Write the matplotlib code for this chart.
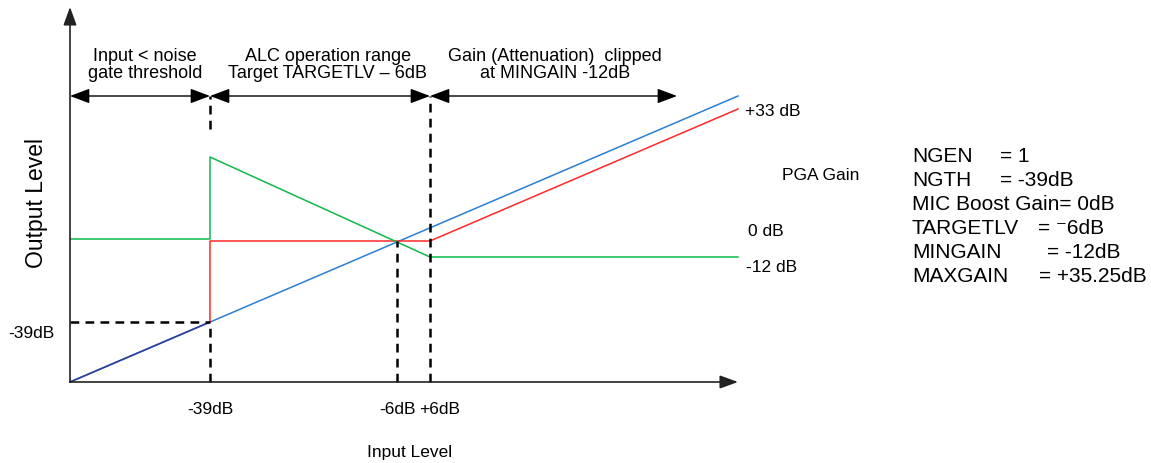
import matplotlib
matplotlib.use("Agg")
import matplotlib.pyplot as plt

plt.rcParams['font.family'] = ['Liberation Sans', 'DejaVu Sans']

# schematic input positions (arbitrary units along the input axis)
x_ng = 140      # -39dB noise gate threshold
x_tgt = 327     # -6dB target
x_clip = 360    # +6dB gain clipped
x_end = 668

# output levels (schematic units)
blue_x = [0, x_end]
blue_y = [0, 286]
red_x = [x_ng, x_ng, x_clip, x_end]
red_y = [60, 141, 141, 273]
green_x = [0, x_ng, x_ng, x_clip, x_end]
green_y = [143, 143, 225, 125, 125]
y_ng = 60
arrow_y = 286
region_ends = [0, x_ng, x_clip, 607]

region_labels = ["Input < noise\ngate threshold",
                 "ALC operation range\nTarget TARGETLV \u2013 6dB",
                 "Gain (Attenuation)  clipped\nat MINGAIN -12dB"]
region_label_x = [75, 258, 485]

settings = [("NGEN", "= 1", 930), ("NGTH", "= -39dB", 930),
            ("MIC Boost Gain= 0dB", "", 0), ("TARGETLV", "= \u207b6dB", 968),
            ("MINGAIN", "= -12dB", 977), ("MAXGAIN", "= +35.25dB", 969)]

fig = plt.figure(figsize=(11.51, 4.64), dpi=100)
ax = fig.add_axes([0, 0, 1, 1])
ax.set_xlim(-70, 1081)
ax.set_ylim(-81, 383)
ax.axis('off')

# axes with arrows
ax.annotate('', xy=(0, 375), xytext=(0, 0),
            arrowprops=dict(arrowstyle='-|>,head_length=1.1,head_width=0.4',
                            color='#222222', lw=1.2, shrinkA=0, shrinkB=0))
ax.annotate('', xy=(x_end, 0), xytext=(0, 0),
            arrowprops=dict(arrowstyle='-|>,head_length=1.1,head_width=0.4',
                            color='#222222', lw=1.2, shrinkA=0, shrinkB=0))

# curves
ax.plot(blue_x, blue_y, color='#2a7fd4', lw=1.1)
ax.plot([0, x_ng], [0, y_ng], color='#34409a', lw=1.2)
ax.plot(red_x, red_y, color='#ff2a2a', lw=1.1)
ax.plot(green_x, green_y, color='#10b84a', lw=1.1)

# dashed guides
dash = dict(color='black', lw=1.8, ls=(0, (3.5, 2.5)))
ax.plot([x_ng, x_ng], [0, y_ng], **dash)
ax.plot([0, x_ng], [y_ng, y_ng], **dash)
ax.plot([x_ng, x_ng], [253, arrow_y], **dash)
ax.plot([x_tgt, x_tgt], [0, 141], **dash)
ax.plot([x_clip, x_clip], [0, arrow_y], **dash)

# region arrows
for a, b in zip(region_ends[:-1], region_ends[1:]):
    ax.annotate('', xy=(b, arrow_y), xytext=(a, arrow_y),
                arrowprops=dict(arrowstyle='<|-|>,head_length=1.2,head_width=0.45',
                                color='black', lw=1.0, shrinkA=0, shrinkB=0))
for lbl, xc in zip(region_labels, region_label_x):
    ax.text(xc, 318, lbl, ha='center', va='center', fontsize=13, linespacing=1.05)

fs = 12.5
ax.text(675, 272, "+33 dB", ha='left', va='center', fontsize=fs)
ax.text(712, 208, "PGA Gain", ha='left', va='center', fontsize=fs)
ax.text(678, 152, "0 dB", ha='left', va='center', fontsize=fs)
ax.text(676, 115, "-12 dB", ha='left', va='center', fontsize=fs)
ax.text(-62, 50, "-39dB", ha='left', va='center', fontsize=fs)
ax.text(x_ng, -27, "-39dB", ha='center', va='center', fontsize=fs)
ax.text(x_tgt + 1, -27, "-6dB", ha='center', va='center', fontsize=fs)
ax.text(x_clip + 10, -27, "+6dB", ha='center', va='center', fontsize=fs)
ax.text(340, -70, "Input Level", ha='center', va='center', fontsize=fs)
ax.text(-33, 180, "Output Level", ha='center', va='center', fontsize=16.5, rotation=90)

for i, (name, val, vx) in enumerate(settings):
    yy = 226 - 24 * i
    ax.text(842, yy, name, ha='left', va='center', fontsize=15)
    if val:
        ax.text(vx, yy, val, ha='left', va='center', fontsize=15)

fig.savefig('out.png', dpi=100)
